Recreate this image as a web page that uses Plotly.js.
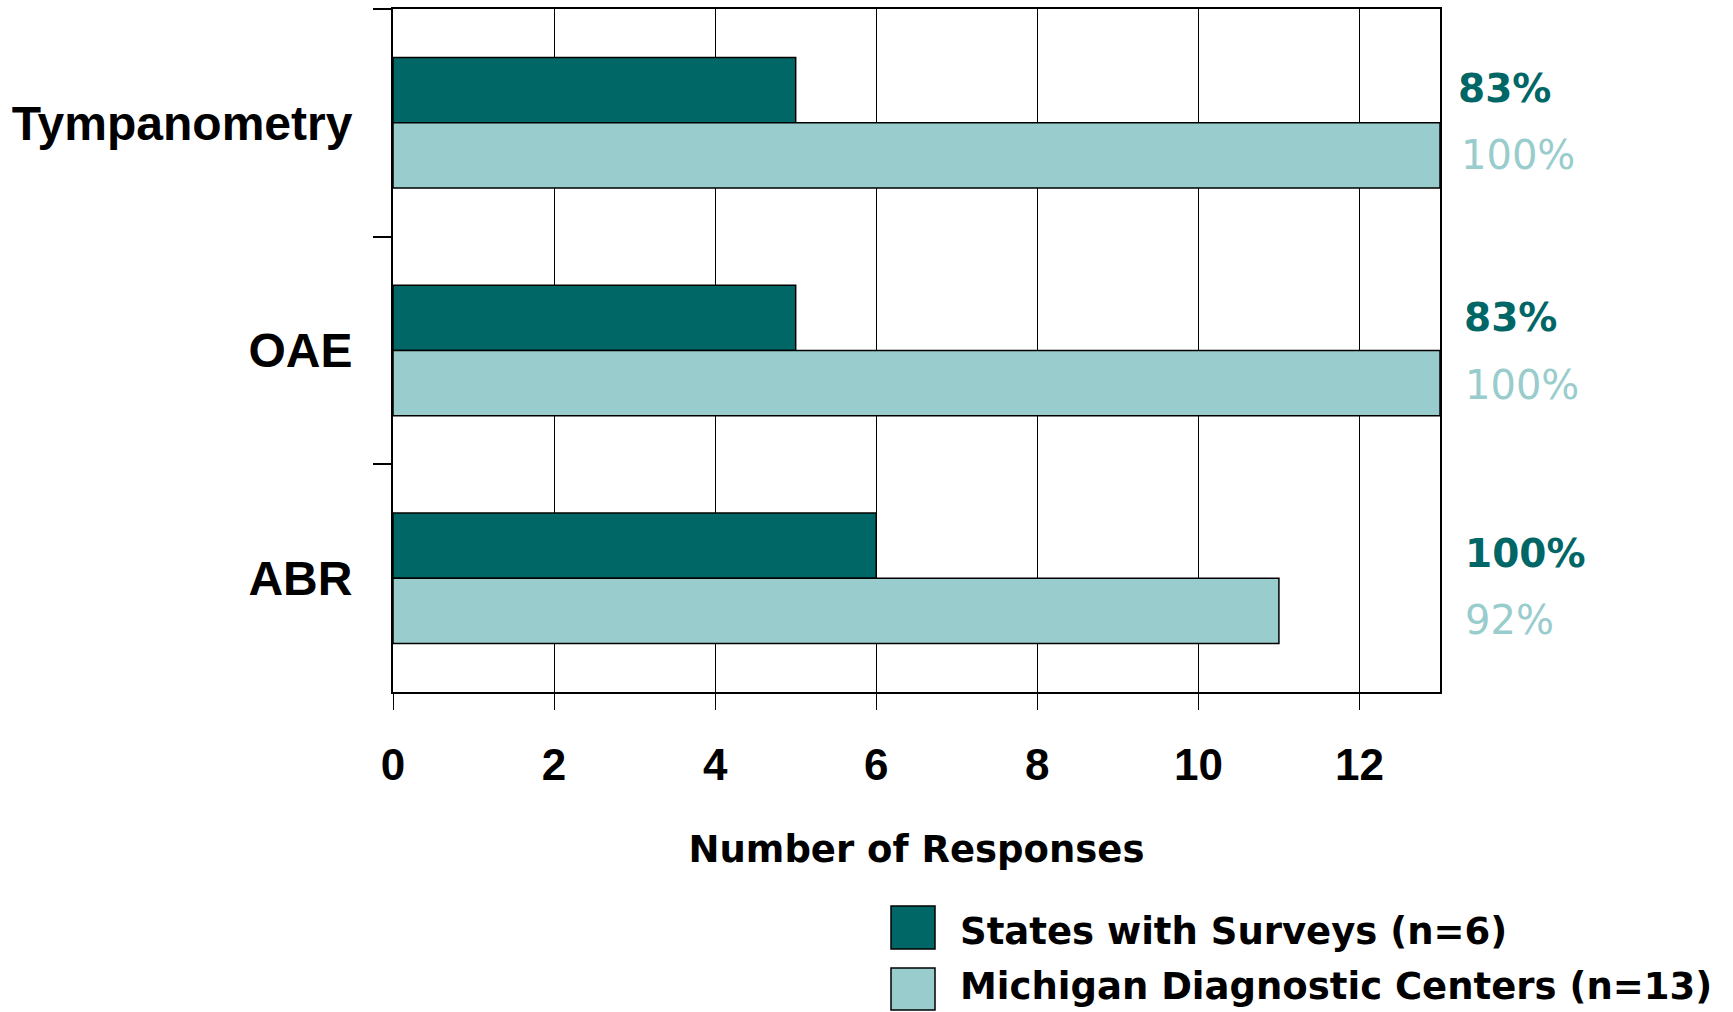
<!DOCTYPE html>
<html>
<head>
<meta charset="utf-8">
<script src="https://cdn.plot.ly/plotly-3.0.1.min.js"></script>
<style>html,body{margin:0;padding:0;background:#fff;}#chart{width:1733px;height:1012px;}</style>
</head>
<body>
<div id="chart"></div>
<script>
// ---- data ----
const categories = ['Tympanometry', 'OAE', 'ABR'];
const seriesNames = ['States with Surveys (n=6)', 'Michigan Diagnostic Centers (n=13)'];
const statesValues = [5, 5, 6];
const michiganValues = [13, 13, 11];
const statesPct = ['83%', '83%', '100%'];
const michiganPct = ['100%', '100%', '92%'];
const xTickValues = [0, 2, 4, 6, 8, 10, 12];

// ---- styling ----
const DARK = '#006666';
const LIGHT = '#99CCCC';
const W = 1733, H = 1012;
const M = {l: 393, r: 293, t: 9, b: 320};
const plotW = W - M.l - M.r, plotH = H - M.t - M.b;
const px = x => (x - M.l) / plotW;           // pixel -> paper x
const py = y => (H - M.b - y) / plotH;       // pixel -> paper y

const traces = [
  {type: 'bar', orientation: 'h', name: seriesNames[0], y: categories, x: statesValues,
   marker: {color: DARK, line: {color: '#000', width: 1.5}}, hoverinfo: 'x+y'},
  {type: 'bar', orientation: 'h', name: seriesNames[1], y: categories, x: michiganValues,
   marker: {color: LIGHT, line: {color: '#000', width: 1.5}}, hoverinfo: 'x+y'}
];

// label placement offsets (pixels) for the percentage labels
const darkShift = [34, 33, 25];
const lightShift = [-32, -34, -42];
const darkXShift = [16, 22, 23];
const lightXShift = [19, 23, 23];

const annotations = [];
categories.forEach((c, i) => {
  annotations.push({xref: 'paper', yref: 'y', x: 1, y: c, xanchor: 'left', yanchor: 'middle',
    xshift: darkXShift[i], yshift: darkShift[i], text: statesPct[i], showarrow: false,
    font: {family: 'DejaVu Sans', size: 39, color: DARK, weight: 'bold'}});
  annotations.push({xref: 'paper', yref: 'y', x: 1, y: c, xanchor: 'left', yanchor: 'middle',
    xshift: lightXShift[i], yshift: lightShift[i], text: michiganPct[i], showarrow: false,
    font: {family: 'DejaVu Sans', size: 40, color: LIGHT}});
});

// custom legend (large swatches)
const legendTop = [906, 968];
const legendBottom = [949, 1010];
const legendTextY = [931, 987];
const legendColors = [DARK, LIGHT];
const shapes = [];
seriesNames.forEach((n, i) => {
  shapes.push({type: 'rect', xref: 'paper', yref: 'paper', x0: px(891), x1: px(935),
    y0: py(legendBottom[i]), y1: py(legendTop[i]), fillcolor: legendColors[i],
    line: {color: '#000', width: 1.5}});
  annotations.push({xref: 'paper', yref: 'paper', x: px(958), y: py(legendTextY[i]),
    xanchor: 'left', yanchor: 'middle', text: n, showarrow: false,
    font: {family: 'DejaVu Sans', size: 37, color: '#000', weight: 'bold'}});
});

const layout = {
  width: W, height: H,
  margin: M,
  paper_bgcolor: '#fff', plot_bgcolor: '#fff',
  barmode: 'group', bargap: 0.427, bargroupgap: 0,
  showlegend: false,
  xaxis: {
    range: [0, 13], tickvals: xTickValues, ticks: 'outside', ticklen: 16, tickcolor: '#000', tickwidth: 1,
    showgrid: true, gridcolor: '#000', gridwidth: 1, zeroline: false,
    showline: true, linecolor: '#000', linewidth: 2, mirror: true,
    tickfont: {family: 'Liberation Sans, Arial', size: 44, color: '#000', weight: 'bold'},
    ticklabelstandoff: 17,
    title: {text: 'Number of Responses', standoff: 48,
      font: {family: 'DejaVu Sans', size: 37, color: '#000', weight: 'bold'}}
  },
  yaxis: {
    type: 'category', autorange: 'reversed', tickson: 'boundaries',
    ticks: 'outside', ticklen: 18, tickcolor: '#000', tickwidth: 2,
    showgrid: false, zeroline: false,
    showline: true, linecolor: '#000', linewidth: 2, mirror: true,
    tickfont: {family: 'Liberation Sans, Arial', size: 48, color: '#000', weight: 'bold'},
    ticklabelstandoff: 29
  },
  annotations: annotations,
  shapes: shapes
};

Plotly.newPlot('chart', traces, layout, {displayModeBar: false, staticPlot: true});
</script>
</body>
</html>
